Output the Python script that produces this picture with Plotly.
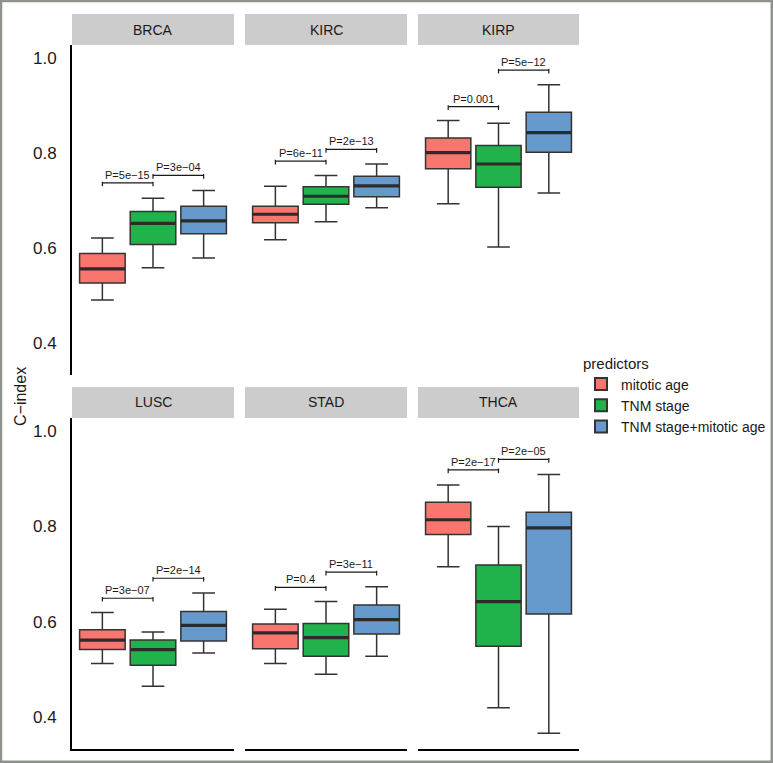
import plotly.graph_objects as go

# ---------------- data ----------------
cancers = ["BRCA", "KIRC", "KIRP", "LUSC", "STAD", "THCA"]
predictors = ["mitotic age", "TNM stage", "TNM stage+mitotic age"]
colors = ["#F8766D", "#22B24C", "#6699CC"]

# per cancer: lists over predictors
lower = {
    "BRCA": [0.490, 0.558, 0.579],
    "KIRC": [0.617, 0.655, 0.685],
    "KIRP": [0.693, 0.602, 0.716],
    "LUSC": [0.512, 0.464, 0.534],
    "STAD": [0.512, 0.489, 0.527],
    "THCA": [0.715, 0.419, 0.365],
}
q1 = {
    "BRCA": [0.526, 0.607, 0.630],
    "KIRC": [0.653, 0.692, 0.708],
    "KIRP": [0.767, 0.728, 0.802],
    "LUSC": [0.541, 0.508, 0.559],
    "STAD": [0.543, 0.527, 0.574],
    "THCA": [0.783, 0.548, 0.616],
}
median = {
    "BRCA": [0.556, 0.652, 0.657],
    "KIRC": [0.671, 0.709, 0.731],
    "KIRP": [0.801, 0.777, 0.843],
    "LUSC": [0.561, 0.541, 0.592],
    "STAD": [0.576, 0.566, 0.604],
    "THCA": [0.814, 0.642, 0.797],
}
q3 = {
    "BRCA": [0.588, 0.677, 0.688],
    "KIRC": [0.688, 0.729, 0.751],
    "KIRP": [0.832, 0.816, 0.886],
    "LUSC": [0.583, 0.561, 0.621],
    "STAD": [0.595, 0.596, 0.635],
    "THCA": [0.851, 0.719, 0.830],
}
upper = {
    "BRCA": [0.621, 0.705, 0.721],
    "KIRC": [0.730, 0.753, 0.777],
    "KIRP": [0.869, 0.863, 0.944],
    "LUSC": [0.619, 0.578, 0.660],
    "STAD": [0.626, 0.642, 0.673],
    "THCA": [0.887, 0.800, 0.909],
}
# significance brackets: (comparison 1-2, comparison 2-3)
bracket_y = {
    "BRCA": [0.737, 0.753],
    "KIRC": [0.783, 0.808],
    "KIRP": [0.898, 0.975],
    "LUSC": [0.649, 0.691],
    "STAD": [0.672, 0.704],
    "THCA": [0.919, 0.941],
}
bracket_label = {
    "BRCA": ["P=5e\u221215", "P=3e\u221204"],
    "KIRC": ["P=6e\u221211", "P=2e\u221213"],
    "KIRP": ["P=0.001", "P=5e\u221212"],
    "LUSC": ["P=3e\u221207", "P=2e\u221214"],
    "STAD": ["P=0.4", "P=3e\u221211"],
    "THCA": ["P=2e\u221217", "P=2e\u221205"],
}
y_ticks = [0.4, 0.6, 0.8, 1.0]

# ---------------- layout geometry ----------------
W, H = 773, 763


def px(xw):
    return xw / W


def py(yw):
    return 1 - yw / H


col_px = [(72, 234), (245, 407), (418, 579)]
row_px = [(45, 375), (418, 749)]       # panel top/bottom in px
strip_px = [(14, 45), (387, 418)]
YR = [0.332, 1.028]
BOXW = 0.9

fig = go.Figure()
font_family = "Liberation Sans, Arial, Helvetica, sans-serif"

layout_axes = {}
shapes = []
annotations = []

for i, c in enumerate(cancers):
    r, k = divmod(i, 3)
    idx = i + 1
    xa = "x" if idx == 1 else f"x{idx}"
    ya = "y" if idx == 1 else f"y{idx}"
    x0, x1 = col_px[k]
    t, b = row_px[r]
    layout_axes[f"xaxis{'' if idx == 1 else idx}"] = dict(
        domain=[px(x0), px(x1)], range=[0.4, 3.6], anchor=ya,
        showticklabels=False, ticks="", showgrid=False, zeroline=False,
        showline=(r == 1), linecolor="black", linewidth=2,
        fixedrange=True,
    )
    layout_axes[f"yaxis{'' if idx == 1 else idx}"] = dict(
        domain=[py(b), py(t)], range=YR, anchor=xa,
        tickvals=y_ticks, tickformat=".1f", ticks="",
        showticklabels=(k == 0), ticklabelstandoff=10,
        tickfont=dict(size=17, color="#1a1a1a"),
        showgrid=False, zeroline=False,
        showline=(k == 0), linecolor="black", linewidth=2,
        fixedrange=True,
    )
    # strip
    st, sb = strip_px[r]
    shapes.append(dict(type="rect", xref="paper", yref="paper",
                       x0=px(x0), x1=px(x1), y0=py(sb), y1=py(st),
                       fillcolor="#CCCCCC", line=dict(width=0), layer="below"))
    annotations.append(dict(x=px((x0 + x1) / 2), y=py((st + sb) / 2),
                            xref="paper", yref="paper", text=c, showarrow=False,
                            font=dict(size=14, color="#1a1a1a", family=font_family),
                            xanchor="center", yanchor="middle"))
    # boxes
    for j, p in enumerate(predictors):
        pos = j + 1
        fig.add_trace(go.Box(
            x=[pos], q1=[q1[c][j]], median=[median[c][j]], q3=[q3[c][j]],
            lowerfence=[lower[c][j]], upperfence=[upper[c][j]],
            width=BOXW, fillcolor=colors[j],
            line=dict(color="#333333", width=1.5),
            name=p, legendgroup=p, showlegend=(i == 0),
            boxpoints=False, xaxis=xa, yaxis=ya, hoverinfo="skip",
        ))
        # thick median bar (ggplot style)
        fig.add_trace(go.Scatter(
            x=[pos - BOXW / 2, pos + BOXW / 2], y=[median[c][j]] * 2,
            mode="lines", line=dict(color="#2b2b2b", width=3.2),
            showlegend=False, xaxis=xa, yaxis=ya, hoverinfo="skip",
        ))
    # significance brackets
    for m in range(2):
        a, bb = m + 1, m + 2
        yy = bracket_y[c][m]
        tip = 0.007
        fig.add_trace(go.Scatter(
            x=[a, a, None, a, bb, None, bb, bb],
            y=[yy - tip, yy + tip * 0.4, None, yy, yy, None, yy - tip, yy + tip * 0.4],
            mode="lines", line=dict(color="#1a1a1a", width=1.2),
            showlegend=False, xaxis=xa, yaxis=ya, hoverinfo="skip",
        ))
        annotations.append(dict(x=(a + bb) / 2, y=yy, xref=xa, yref=ya,
                                text=bracket_label[c][m], showarrow=False,
                                xanchor="center", yanchor="bottom", yshift=0,
                                font=dict(size=11, color="#1a1a1a", family=font_family)))

# y-axis title
annotations.append(dict(x=px(20), y=py(397), xref="paper", yref="paper",
                        text="C\u2212index", showarrow=False, textangle=-90,
                        font=dict(size=16, color="#1a1a1a", family=font_family),
                        xanchor="center", yanchor="middle"))

# outer frame
shapes.append(dict(type="rect", xref="paper", yref="paper",
                   x0=px(1), x1=px(771.8), y0=py(761.8), y1=py(1),
                   line=dict(color="#8E938E", width=2.5), layer="above"))

fig.update_layout(
    width=W, height=H, autosize=False,
    margin=dict(l=0, r=0, t=0, b=0),
    paper_bgcolor="white", plot_bgcolor="white",
    font=dict(family=font_family, color="#1a1a1a"),
    boxmode="overlay",
    legend=dict(
        title=dict(text="predictors", font=dict(size=15, color="#1a1a1a")),
        x=px(581), y=py(349), xanchor="left", yanchor="top",
        font=dict(size=14, color="#1a1a1a"), bgcolor="rgba(0,0,0,0)",
        tracegroupgap=0, itemsizing="constant",
    ),
    shapes=shapes, annotations=annotations,
    **layout_axes,
)

# remove the default page margin so the figure fills the window exactly
fig.write_html("out.html", config={"displayModeBar": False},
               post_script="document.body.style.margin='0';")
